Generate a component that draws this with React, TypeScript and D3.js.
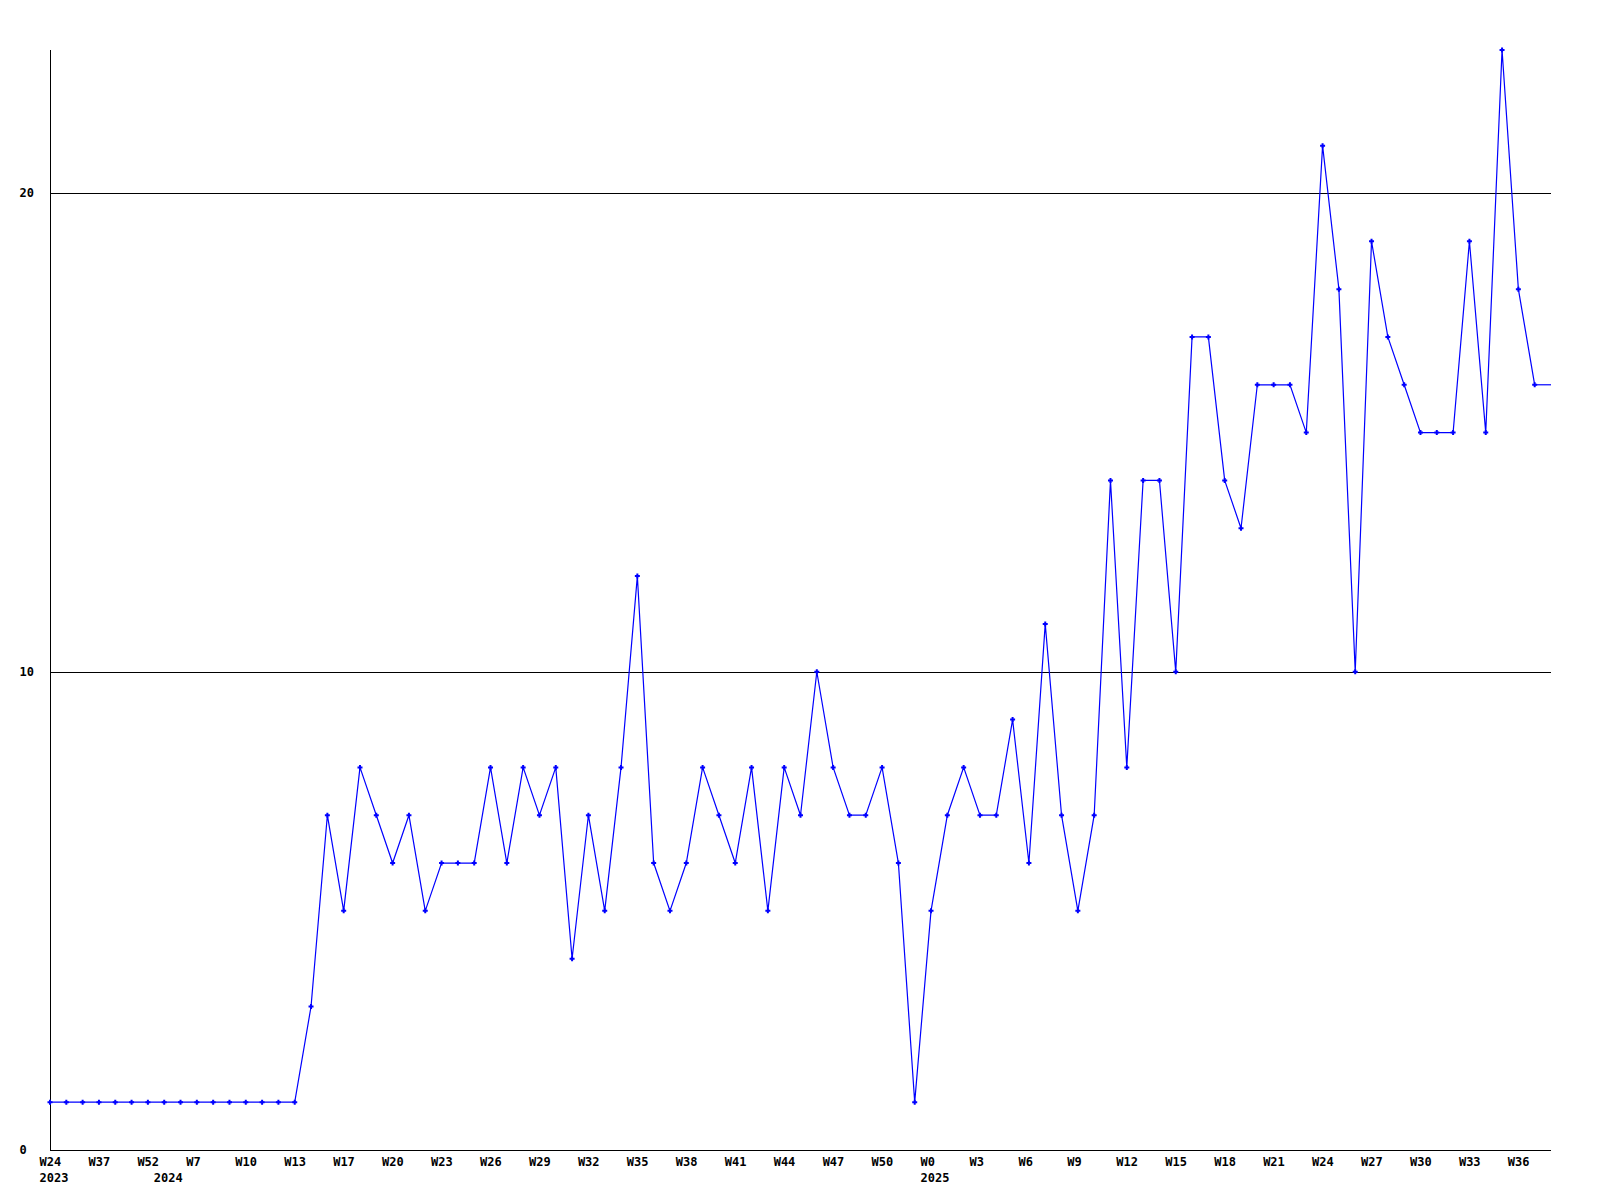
import React from "react";
import * as d3 from "d3";

// weekly values (one per point, in order)
const values: number[] = [
  1, 1, 1, 1, 1, 1, 1, 1, 1, 1, 1, 1, 1, 1, 1, 1,
  3, 7, 5, 8, 7, 6, 7, 5, 6, 6, 6, 8, 6, 8, 7, 8,
  4, 7, 5, 8, 12, 6, 5, 6, 8, 7, 6, 8, 5, 8, 7, 10,
  8, 7, 7, 8, 6, 1, 5, 7, 8, 7, 7, 9, 6, 11, 7, 5,
  7, 14, 8, 14, 14, 10, 17, 17, 14, 13, 16, 16, 16, 15, 21, 18,
  10, 19, 17, 16, 15, 15, 15, 19, 15, 23, 18, 16,
];

// week tick labels, one every 3rd point
const tickLabels: string[] = [
  "W24", "W37", "W52", "W7", "W10", "W13", "W17", "W20", "W23", "W26",
  "W29", "W32", "W35", "W38", "W41", "W44", "W47", "W50", "W0", "W3",
  "W6", "W9", "W12", "W15", "W18", "W21", "W24", "W27", "W30", "W33", "W36",
];
const tickStep = 3;

// year labels: point index where each year starts
const yearIndex: number[] = [0, 7, 54];
const yearLabels: string[] = ["2023", "2024", "2025"];

const yTicks: number[] = [0, 10, 20];
const yGrid: number[] = [10, 20];

export default function App() {
  const left = 50, right = 1551, top = 50, bottom = 1150;
  const x = d3.scaleLinear().domain([0, values.length]).range([left, right]);
  const y = d3.scaleLinear().domain([0, 23]).range([bottom, top]);

  const pts: [number, number][] = values.map((v, i) => [x(i), y(v)]);
  const ext: [number, number][] = [
    [x(values.length - 1), y(values[values.length - 1])],
    [x(values.length), y(values[values.length - 1])],
  ];
  const line = d3.line<[number, number]>().x((d) => d[0]).y((d) => d[1]);

  const font = "'DejaVu Sans Mono', monospace";
  return (
    <svg
      width={1600}
      height={1200}
      style={{ position: "absolute", left: 0, top: 0, background: "#fff" }}
    >
      <rect x={0} y={0} width={1600} height={1200} fill="#fff" />
      {yGrid.map((v) => (
        <line
          key={"g" + v}
          x1={left}
          x2={right}
          y1={Math.round(y(v)) + 0.5}
          y2={Math.round(y(v)) + 0.5}
          stroke="#000"
          strokeWidth={1}
          shapeRendering="crispEdges"
        />
      ))}
      <line x1={left + 0.5} x2={left + 0.5} y1={top} y2={bottom} stroke="#000" shapeRendering="crispEdges" />
      <line x1={left} x2={right} y1={bottom + 0.5} y2={bottom + 0.5} stroke="#000" shapeRendering="crispEdges" />
      {yTicks.map((v) => (
        <text
          key={"y" + v}
          x={19.5}
          y={y(v) + 4}
          fontFamily={font}
          fontWeight="bold"
          fontSize={12}
          fill="#000"
        >
          {v}
        </text>
      ))}
      {tickLabels.map((t, k) => (
        <text
          key={"t" + k}
          x={x(k * tickStep) - 10.5}
          y={1166}
          fontFamily={font}
          fontWeight="bold"
          fontSize={12}
          fill="#000"
        >
          {t}
        </text>
      ))}
      {yearLabels.map((t, k) => (
        <text
          key={"yr" + k}
          x={x(yearIndex[k]) - 10.5}
          y={1182}
          fontFamily={font}
          fontWeight="bold"
          fontSize={12}
          fill="#000"
        >
          {t}
        </text>
      ))}
      <path d={line(pts) || ""} fill="none" stroke="#0000ff" strokeWidth={1.2} />
      <path d={line(ext) || ""} fill="none" stroke="#0000ff" strokeWidth={1.2} />
      {pts.map(([px, py], i) => (
        <path
          key={"m" + i}
          d={`M${px - 2.5},${py}h5M${px},${py - 2.5}v5`}
          stroke="#0000ff"
          strokeWidth={2}
          fill="none"
        />
      ))}
    </svg>
  );
}
